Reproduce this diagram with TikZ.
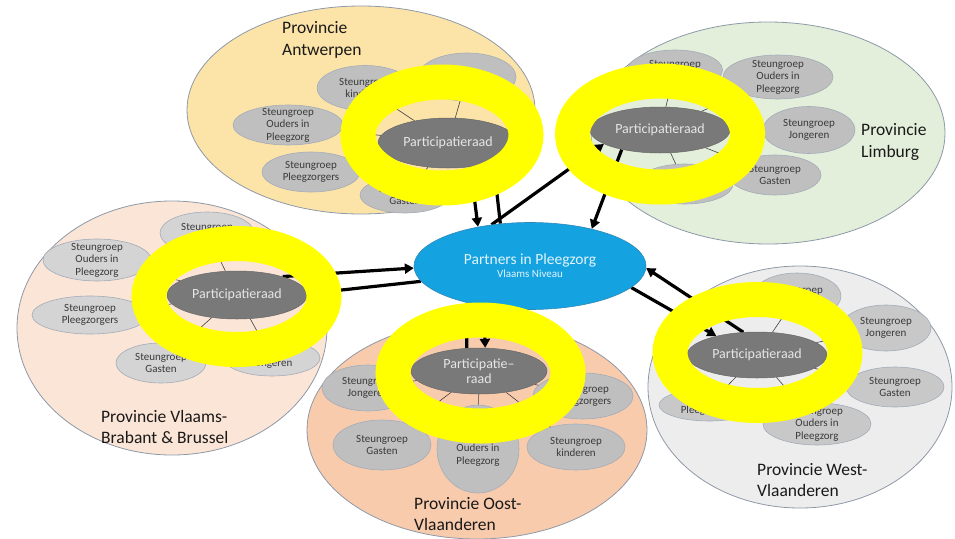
\documentclass[tikz,border=0pt]{standalone}
\usepackage{fontspec}
\setmainfont{Carlito}
\usetikzlibrary{shapes.geometric,arrows.meta}
\pgfdeclarelayer{bg}
\pgfdeclarelayer{mid}
\pgfdeclarelayer{top}
\pgfsetlayers{bg,mid,main,top}
\definecolor{antFill}{HTML}{FCE4A9}
\definecolor{limFill}{HTML}{E3EFDA}
\definecolor{braFill}{HTML}{FBE5D7}
\definecolor{oosFill}{HTML}{F8CBAD}
\definecolor{wesFill}{HTML}{EDEDED}
\definecolor{provline}{HTML}{8E99A8}
\definecolor{grpFill}{HTML}{BFBFBF}
\definecolor{grpLight}{HTML}{D4D4D4}
\definecolor{grpMid}{HTML}{C8C8C8}
\definecolor{grpline}{HTML}{A3ACB8}
\definecolor{grptext}{HTML}{3A3A3A}
\definecolor{raadfill}{HTML}{797979}
\definecolor{raadtext}{HTML}{E6E6E6}
\definecolor{ringyellow}{HTML}{FFFF00}
\definecolor{blueFill}{HTML}{14A3E0}
\definecolor{blueLine}{HTML}{2F86B8}
\definecolor{blueText}{HTML}{E2F3FC}
\begin{document}
\begin{tikzpicture}[x=1pt,y=-1pt,
  prov/.style={ellipse, draw=provline, line width=0.8pt, inner sep=0pt},
  grp/.style={ellipse, fill=#1, draw=grpline, line width=0.6pt, inner xsep=0pt, inner ysep=-8pt,
    font=\fontsize{11}{12.5}\selectfont, text=grptext, align=center},
  grp/.default=grpFill,
  raad/.style={ellipse, fill=raadfill, draw=raadfill!85!black, line width=0.5pt, inner sep=0pt,
    font=\fontsize{14}{15}\selectfont, text=raadtext, align=center,
    minimum width=140pt, minimum height=47pt},
  ring/.style={ellipse, draw=ringyellow, line width=35pt, inner sep=0pt,
    minimum width=175pt, minimum height=106pt},
  link/.style={line width=0.6pt, draw=black!75},
  arr/.style={line width=3.2pt, -{Triangle[length=9pt,width=10pt]}},
  plabel/.style={anchor=west, align=left, inner sep=0pt, text=black!90,
    font=\fontsize{17.5}{21.5}\selectfont}]
\useasboundingbox (0,0) rectangle (955,538);
\clip (0,0) rectangle (955,538);

\begin{pgfonlayer}{bg}
\fill[white] (0,0) rectangle (955,538);
% province ellipses
\node[prov, fill=braFill, minimum width=310pt, minimum height=254pt] (pBra) at (172,328) {};
\node[prov, fill=antFill, minimum width=348pt, minimum height=208pt] (pAnt) at (361,110) {};
\node[prov, fill=limFill, minimum width=354pt, minimum height=222pt] (pLim) at (768,133) {};
\node[prov, fill=wesFill, minimum width=304pt, minimum height=242pt] (pWes) at (800,387) {};
\node[prov, fill=oosFill, minimum width=340pt, minimum height=218pt] (pOos) at (477,430) {};

% Antwerpen groups
\node[grp, minimum width=96pt, minimum height=45pt] (antK) at (365,88) {Steungroep\\kinderen};
\node[grp, minimum width=98pt, minimum height=48pt] (antJ) at (467,77) {};
\node[grp, minimum width=110pt, minimum height=40pt] (antO) at (288,125) {Steungroep\\Ouders in\\Pleegzorg};
\node[grp, minimum width=98pt, minimum height=40pt] (antP) at (311,172) {Steungroep\\Pleegzorgers};
\node[grp, minimum width=90pt, minimum height=36pt] (antG) at (405,195) {Steungroep\\Gasten};

% Limburg groups
\node[grp, minimum width=95pt, minimum height=40pt] (limK) at (675,70) {Steungroep\\kinderen};
\node[grp, minimum width=110pt, minimum height=44pt] (limO) at (778,77) {Steungroep\\Ouders in\\Pleegzorg};
\node[grp, minimum width=92pt, minimum height=47pt] (limJ) at (809,130) {Steungroep\\Jongeren};
\node[grp, minimum width=92pt, minimum height=40pt] (limG) at (775,175) {Steungroep\\Gasten};
\node[grp, minimum width=96pt, minimum height=40pt] (limP) at (685,184) {};

% Vlaams-Brabant groups
\node[grp=grpLight, minimum width=94pt, minimum height=42pt] (braK) at (207,233) {Steungroep\\kinderen};
\node[grp=grpLight, minimum width=108pt, minimum height=42pt] (braO) at (97,260) {Steungroep\\Ouders in\\Pleegzorg};
\node[grp=grpLight, minimum width=116pt, minimum height=38pt] (braP) at (90,315) {Steungroep\\Pleegzorgers};
\node[grp=grpLight, minimum width=90pt, minimum height=40pt] (braG) at (161,363) {Steungroep\\Gasten};
\node[grp=grpLight, minimum width=96pt, minimum height=36pt] (braJ) at (272,358) {Steungroep\\Jongeren};

% Oost-Vlaanderen groups
\node[grp, minimum width=92pt, minimum height=46pt] (oosJ) at (368,388) {Steungroep\\Jongeren};
\node[grp, minimum width=98pt, minimum height=50pt] (oosG) at (382,445) {Steungroep\\Gasten};
\node[grp, minimum width=82pt, minimum height=88pt] (oosO) at (478,449) {Steungroep\\Ouders in\\Pleegzorg};
\node[grp, minimum width=100pt, minimum height=46pt] (oosP) at (583,396) {Steungroep\\Pleegzorgers};
\node[grp, minimum width=98pt, minimum height=46pt] (oosKi) at (576,447) {Steungroep\\kinderen};

% West-Vlaanderen groups
\node[grp=grpMid, minimum width=88pt, minimum height=46pt] (wesK) at (797,296) {Steungroep\\kinderen};
\node[grp=grpMid, minimum width=90pt, minimum height=46pt] (wesJ) at (886,328) {Steungroep\\Jongeren};
\node[grp=grpMid, minimum width=98pt, minimum height=40pt] (wesG) at (895,387) {Steungroep\\Gasten};
\node[grp=grpMid, minimum width=108pt, minimum height=42pt] (wesO) at (817,424) {Steungroep\\Ouders in\\Pleegzorg};
\node[grp=grpMid, minimum width=100pt, minimum height=32pt] (wesP) at (709,405) {Steungroep\\Pleegzorgers};
\end{pgfonlayer}

% central node
\node[ellipse, fill=blueFill, draw=blueLine, line width=0.6pt, inner sep=0pt,
  minimum width=232pt, minimum height=87pt, align=center, text=blueText,
  font=\fontsize{15.5}{16}\selectfont] (blue) at (530,266)
  {Partners in Pleegzorg\\[-3pt]{\fontsize{11}{12}\selectfont Vlaams Niveau}};

% participatieraden
\node[raad, minimum height=50pt] (antR) at (448,143) {Participatieraad};
\node[raad, minimum height=46pt] (limR) at (660,130) {Participatieraad};
\node[raad, minimum height=48pt] (braR) at (237,295) {Participatieraad};
\node[raad, minimum width=136pt, minimum height=46pt] (oosR) at (479,371) {Participatie–\\raad};
\node[raad, minimum height=46pt] (wesR) at (757,355) {Participatieraad};

\begin{pgfonlayer}{mid}
% links raad -> steungroepen
\foreach \r/\g in {antR/antK, antR/antJ, antR/antO, antR/antP, antR/antG,
                   limR/limK, limR/limO, limR/limJ, limR/limG, limR/limP,
                   braR/braK, braR/braO, braR/braP, braR/braG, braR/braJ,
                   oosR/oosJ, oosR/oosG, oosR/oosO, oosR/oosP, oosR/oosKi,
                   wesR/wesK, wesR/wesJ, wesR/wesG, wesR/wesO, wesR/wesP}
  \draw[link] (\r) -- (\g);

% arrows between raden and central node
\draw[arr] (antR.313) -- (blue.143.6);
\draw[arr] (blue.125) -- (antR.337);
\draw[arr] (blue.133) -- (limR.194);
\draw[arr] (limR.207) -- (blue.31.5);
\draw[arr] (braR.22) -- (blue.181);
\draw[arr] (blue.188.5) -- (braR.1);
\draw[arr] (oosR.118) -- (blue.210);
\draw[arr] (blue.221) -- (oosR.75);
\draw[arr] (wesR.121) -- (blue.359);
\draw[arr] (blue.348) -- (wesR.155);
\end{pgfonlayer}

\begin{pgfonlayer}{top}
% yellow rings
\node[ring, minimum width=168pt] (antRing) at (442,135) {};
\node[ring] (limRing) at (660,134) {};
\node[ring] (braRing) at (236.5,296.5) {};
\node[ring] (oosRing) at (480.5,373) {};
\node[ring] (wesRing) at (757.5,352.5) {};

% province labels
\node[plabel] (lAnt) at (282,40) {Provincie\\Antwerpen};
\node[plabel] (lLim) at (861,142) {Provincie\\Limburg};
\node[plabel] (lBra) at (101,427) {Provincie Vlaams-\\Brabant \& Brussel};
\node[plabel] (lOos) at (414,514) {Provincie Oost-\\Vlaanderen};
\node[plabel] (lWes) at (757,480) {Provincie West-\\Vlaanderen};
\end{pgfonlayer}
\end{tikzpicture}
\end{document}
